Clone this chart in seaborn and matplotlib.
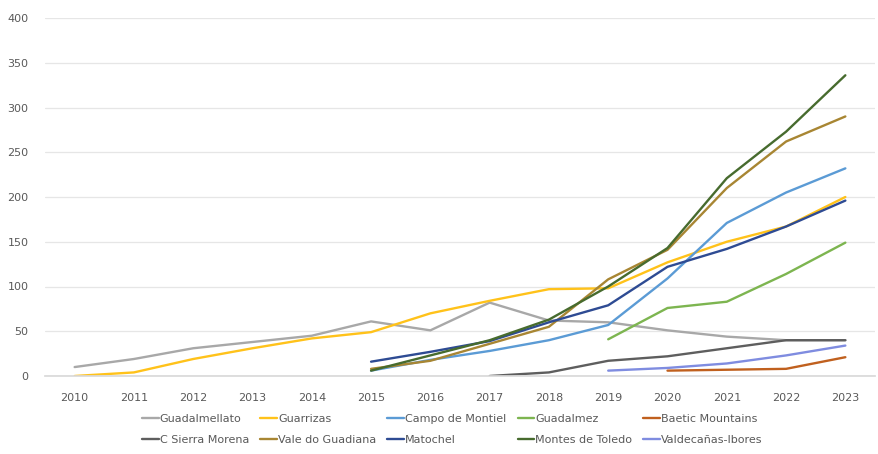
import numpy as np
import pandas as pd
import matplotlib
matplotlib.use("Agg")
import matplotlib.pyplot as plt
from matplotlib import font_manager
import seaborn as sns

years = list(range(2010, 2024))
nan = np.nan

guadalmellato = [10, 19, 31, 38, 45, 61, 51, 82, 62, 60, 51, 44, 40, 40]
guarrizas = [0, 4, 19, 31, 42, 49, 70, 84, 97, 98, 127, 150, 167, 200]
campo_de_montiel = [nan, nan, nan, nan, nan, 6, 18, 28, 40, 57, 109, 171, 205, 232]
guadalmez = [nan, nan, nan, nan, nan, nan, nan, nan, nan, 41, 76, 83, 114, 149]
baetic_mountains = [nan, nan, nan, nan, nan, nan, nan, nan, nan, nan, 6, 7, 8, 21]
c_sierra_morena = [nan, nan, nan, nan, nan, nan, nan, 0, 4, 17, 22, 31, 40, 40]
vale_do_guadiana = [nan, nan, nan, nan, nan, 8, 17, 36, 55, 108, 141, 210, 262, 290]
matochel = [nan, nan, nan, nan, nan, 16, 27, 39, 60, 79, 122, 142, 167, 196]
montes_de_toledo = [nan, nan, nan, nan, nan, 6, 23, 40, 63, 100, 143, 221, 273, 336]
valdecanas_ibores = [nan, nan, nan, nan, nan, nan, nan, nan, nan, 6, 9, 14, 23, 34]

series_names = ["Guadalmellato", "Guarrizas", "Campo de Montiel", "Guadalmez",
                "Baetic Mountains", "C Sierra Morena", "Vale do Guadiana",
                "Matochel", "Montes de Toledo", "Valdecañas-Ibores"]
series_values = [guadalmellato, guarrizas, campo_de_montiel, guadalmez,
                 baetic_mountains, c_sierra_morena, vale_do_guadiana,
                 matochel, montes_de_toledo, valdecanas_ibores]
series_colors = ["#A8A8A8", "#FFC21A", "#5B9BD5", "#7DB550", "#C0601E",
                 "#5E5E5E", "#A88633", "#2E4B93", "#476B2E", "#7F8CE0"]
y_ticks = [0, 50, 100, 150, 200, 250, 300, 350, 400]

wide = pd.DataFrame(dict(zip(series_names, series_values)), index=years)
wide.index.name = "year"
long = wide.reset_index().melt(id_vars="year", var_name="area", value_name="count").dropna()

sns.set_theme(style="white")
available = {f.name for f in font_manager.fontManager.ttflist}
family = ["Liberation Sans Narrow"] if "Liberation Sans Narrow" in available else []
plt.rcParams["font.family"] = family + ["DejaVu Sans"]

fig = plt.figure(figsize=(8.79, 4.54), dpi=100)
ax = fig.add_axes([45 / 879, 78 / 454, 830 / 879, 358 / 454])

sns.lineplot(data=long, x="year", y="count", hue="area", hue_order=series_names,
             palette=dict(zip(series_names, series_colors)), linewidth=1.7,
             ax=ax, legend=True, estimator=None)

ax.set_xlim(2009.5, 2023.5)
ax.set_ylim(0, 400)
ax.set_xticks(years)
ax.set_xticklabels([str(y) for y in years])
ax.set_yticks(y_ticks)
ax.set_yticklabels([str(v) for v in y_ticks])
ax.set_xlabel("")
ax.set_ylabel("")
ax.grid(axis="y", color="#E6E6E6", linewidth=0.9)
ax.set_axisbelow(True)
for side in ["top", "right", "left"]:
    ax.spines[side].set_visible(False)
ax.spines["bottom"].set_color("#D9D9D9")
ax.tick_params(axis="both", length=0, labelsize=8, labelcolor="#595959")
ax.tick_params(axis="x", pad=12)
ax.tick_params(axis="y", pad=12)

handles, labels = ax.get_legend_handles_labels()
lookup = dict(zip(labels, handles))
order = []
for i in range(5):
    order += [series_names[i], series_names[i + 5]]
ax.legend([lookup[n] for n in order], order, ncol=5, loc="upper left",
          bbox_to_anchor=(142 / 879, 40 / 454), bbox_transform=fig.transFigure,
          frameon=False, fontsize=8, labelcolor="#595959", handlelength=1.5,
          handletextpad=0.1, columnspacing=1.0, labelspacing=0.95,
          borderaxespad=0, borderpad=0)

fig.savefig("out.png", dpi=100)
